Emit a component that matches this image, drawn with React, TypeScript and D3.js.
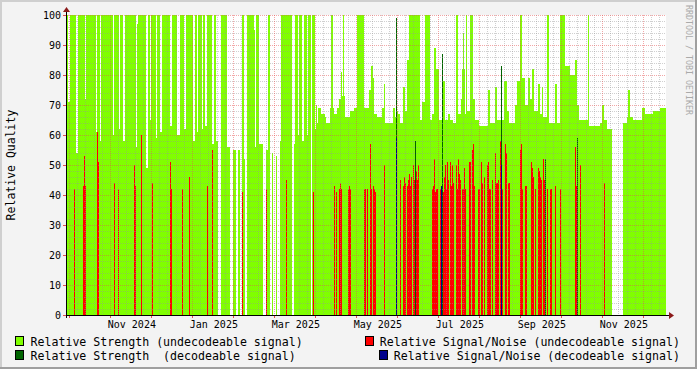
import React from 'react';
import * as d3 from 'd3';

const W = 697;
const H = 369;

// Relative Strength (undecodeable signal): runs [fromStep, toStep, value]
const strengthUndecodeable: [number, number, number][] = [
  [0, 1, 100], [2, 3, 71], [4, 9, 100], [10, 11, 54], [12, 18, 100], [19, 19, 72], [20, 29, 100],
  [30, 30, 61], [31, 33, 100], [34, 34, 58], [35, 46, 100], [47, 47, 60], [48, 52, 100], [53, 53, 62],
  [54, 56, 100], [57, 58, 58], [59, 69, 100], [70, 70, 56], [71, 71, 97], [72, 79, 100], [80, 81, 49],
  [82, 83, 100], [84, 84, 65], [85, 89, 100], [90, 90, 59], [91, 93, 100], [94, 95, 61], [96, 103, 100],
  [104, 105, 63], [106, 110, 100], [111, 113, 60], [114, 117, 100], [118, 119, 62], [120, 126, 100],
  [127, 128, 58], [129, 130, 100], [131, 131, 61], [132, 135, 100], [136, 136, 62], [137, 138, 100],
  [139, 140, 63], [141, 145, 100], [146, 147, 57], [148, 149, 100], [150, 151, 58], [152, 154, 0],
  [155, 160, 100], [161, 163, 56], [164, 166, 0], [167, 169, 55], [170, 171, 0], [172, 173, 55],
  [174, 175, 0], [176, 177, 100], [178, 178, 52], [179, 180, 0], [181, 187, 100], [188, 188, 95],
  [189, 189, 56], [190, 192, 100], [193, 196, 57], [197, 199, 0], [200, 201, 55], [202, 203, 100],
  [204, 205, 0], [206, 206, 54], [207, 209, 0], [210, 210, 53], [211, 213, 0], [214, 214, 58],
  [215, 225, 100], [226, 227, 0], [228, 228, 57], [229, 231, 100], [232, 232, 60], [233, 235, 100],
  [236, 237, 58], [238, 240, 100], [241, 241, 60], [242, 244, 100], [245, 245, 0], [246, 248, 100],
  [249, 249, 62], [250, 250, 70], [251, 251, 64], [252, 254, 69], [255, 258, 67], [259, 259, 66],
  [260, 263, 64], [264, 264, 69], [265, 266, 100], [267, 267, 69], [268, 270, 67], [271, 272, 69],
  [273, 274, 72], [275, 275, 81], [276, 276, 73], [277, 277, 100], [278, 278, 73], [279, 283, 66],
  [284, 287, 68], [288, 290, 69], [291, 297, 100], [298, 302, 69], [303, 304, 75], [305, 306, 83],
  [307, 307, 79], [308, 310, 67], [311, 315, 66], [316, 317, 69], [318, 318, 77], [319, 326, 64],
  [327, 328, 69], [329, 329, 66], [331, 331, 68], [332, 333, 67], [334, 336, 64], [337, 338, 76],
  [339, 340, 68], [341, 342, 85], [343, 353, 100], [354, 355, 65], [356, 358, 71], [359, 363, 100],
  [364, 365, 65], [366, 367, 67], [368, 369, 89], [370, 372, 82], [373, 375, 65], [377, 378, 78],
  [379, 381, 65], [382, 383, 67], [384, 386, 65], [387, 389, 64], [390, 391, 100], [392, 394, 67],
  [395, 395, 72], [396, 396, 82], [397, 397, 94], [398, 398, 82], [399, 399, 67], [400, 400, 100],
  [401, 403, 68], [404, 406, 100], [407, 408, 72], [409, 412, 65], [413, 421, 63], [422, 423, 75],
  [424, 428, 64], [429, 430, 76], [431, 434, 65], [436, 437, 65], [438, 440, 78], [441, 442, 68],
  [443, 448, 64], [449, 450, 70], [451, 453, 78], [454, 455, 100], [456, 458, 79], [459, 461, 70],
  [462, 463, 79], [464, 465, 72], [466, 467, 82], [468, 471, 68], [472, 473, 77], [474, 475, 67],
  [476, 476, 76], [477, 480, 66], [481, 482, 100], [483, 488, 64], [489, 490, 77], [491, 493, 64],
  [494, 498, 100], [499, 503, 83], [504, 508, 80], [509, 510, 85], [511, 512, 70], [513, 521, 65],
  [522, 522, 100], [523, 533, 63], [534, 535, 64], [536, 537, 70], [538, 540, 65], [541, 545, 62],
  [557, 560, 64], [561, 561, 66], [562, 563, 75], [564, 566, 66], [567, 575, 65], [576, 578, 69],
  [579, 586, 67], [587, 593, 68], [594, 599, 69],
];

// Relative Strength (decodeable signal): [step, value]
const strengthDecodeable: [number, number][] = [
  [330, 99], [349, 58], [376, 87], [435, 83], [479, 52], [511, 59],
];

// Relative Signal/Noise (undecodeable signal): [step, value]
const snrUndecodeable: [number, number][] = [
  [8, 42], [17, 43], [18, 53], [19, 43], [31, 61], [32, 51], [48, 44], [52, 42], [68, 50], [69, 43],
  [75, 60], [86, 44], [104, 51], [105, 42], [116, 42], [123, 46], [141, 43], [146, 55], [176, 41],
  [200, 42], [220, 45], [247, 41], [268, 43], [270, 41], [273, 42], [274, 44], [275, 42], [282, 42],
  [283, 43], [284, 42], [298, 42], [299, 42], [301, 42], [304, 57], [305, 42], [307, 43], [308, 42],
  [309, 41], [318, 50], [334, 45], [337, 43], [338, 46], [339, 44], [341, 43], [342, 45], [343, 47],
  [344, 43], [345, 46], [347, 50], [348, 45], [350, 48], [351, 45], [352, 50], [366, 42], [367, 43],
  [368, 52], [369, 41], [370, 42], [371, 42], [374, 42], [377, 41], [378, 46], [379, 50], [380, 42],
  [381, 51], [382, 45], [384, 51], [385, 43], [386, 50], [387, 44], [390, 50], [391, 42], [392, 52],
  [393, 47], [394, 45], [396, 42], [397, 42], [398, 49], [399, 42], [403, 51], [404, 51], [406, 55],
  [407, 57], [408, 43], [412, 42], [413, 42], [415, 51], [416, 44], [418, 46], [421, 50], [422, 51],
  [423, 42], [424, 42], [426, 45], [429, 54], [430, 44], [431, 44], [432, 45], [434, 58], [436, 42],
  [439, 57], [440, 54], [442, 44], [443, 44], [454, 55], [455, 57], [456, 42], [459, 43], [460, 43],
  [465, 51], [466, 49], [467, 46], [469, 42], [472, 49], [473, 48], [474, 46], [475, 45], [477, 52],
  [478, 45], [481, 42], [484, 42], [485, 42], [489, 43], [494, 42], [509, 56], [510, 43], [514, 50],
  [538, 44],
];

// Relative Signal/Noise (decodeable signal): [step, value]
const snrDecodeable: [number, number][] = [[330, 59], [375, 43], [435, 50]];

const yTicks = [0, 10, 20, 30, 40, 50, 60, 70, 80, 90, 100];
const xMajorDates = [
  '2024-10-02', '2024-11-01', '2024-12-01', '2024-12-31', '2025-01-30', '2025-03-01', '2025-03-31',
  '2025-04-30', '2025-05-30', '2025-06-29', '2025-07-29', '2025-08-28', '2025-09-27', '2025-10-27',
  '2025-11-26',
];
const xLabelTexts = ['Nov 2024', 'Jan 2025', 'Mar 2025', 'May 2025', 'Jul 2025', 'Sep 2025', 'Nov 2025'];
const xLabelDates = ['2024-11-17', '2025-01-16', '2025-03-17', '2025-05-16', '2025-07-15', '2025-09-13', '2025-11-12'];

const legendItems = [
  { label: 'Relative Strength (undecodeable signal)', color: '#80ff00' },
  { label: 'Relative Strength  (decodeable signal)', color: '#006400' },
  { label: 'Relative Signal/Noise (undecodeable signal)', color: '#ff0000' },
  { label: 'Relative Signal/Noise (decodeable signal)', color: '#00008b' },
];

const STEPS = 600;
const DAY = 864e5;
const stepDays = 30 / 41;
const origin = Date.UTC(2024, 10, 1) - 44 * stepDays * DAY;
const stepTime = (i: number) => new Date(origin + i * stepDays * DAY);
const parse = (s: string) => new Date(s + 'T00:00:00Z');

const MONO = "'DejaVu Sans Mono', 'Liberation Mono', monospace";

export default function App() {
  const left = 66, right = 666, top = 15, bottom = 315;
  const x = d3.scaleUtc().domain([stepTime(0), stepTime(STEPS)]).range([left, right]);
  const y = d3.scaleLinear().domain([0, 100]).range([bottom, top]);

  const bar = (i: number, v: number, color: string, key: string) => {
    if (!v) return null;
    const x0 = x(stepTime(i));
    const x1 = x(stepTime(i + 1));
    return <rect key={key} x={x0} y={y(v)} width={x1 - x0} height={y(0) - y(v)} fill={color} />;
  };

  const greenBars: React.ReactNode[] = [];
  strengthUndecodeable.forEach(([a, b, v], k) => {
    for (let i = a; i <= b; i++) greenBars.push(bar(i, v, '#80ff00', `g${k}-${i}`));
  });

  const minorDates: Date[] = [];
  xMajorDates.forEach((s) => {
    const d = parse(s);
    for (let k = 1; k < 5; k++) minorDates.push(new Date(+d + k * 6 * DAY));
  });
  const inside = (d: Date) => x(d) > left && x(d) < right;
  const minorY = d3.range(0, 101, 2).filter((v) => v % 10 !== 0);

  return (
    <svg width={W} height={H} style={{ position: 'absolute', left: 0, top: 0 }} shapeRendering="crispEdges">
      <rect x={0} y={0} width={W} height={H} fill="#f3f3f3" />
      <rect x={0} y={0} width={W} height={2} fill="#cfcfcf" />
      <rect x={0} y={0} width={2} height={H} fill="#cfcfcf" />
      <rect x={0} y={H - 2} width={W} height={2} fill="#9f9f9f" />
      <rect x={W - 2} y={0} width={2} height={H} fill="#9f9f9f" />
      <rect x={left} y={top} width={right - left} height={bottom - top} fill="#ffffff" />

      <g>{greenBars}</g>
      <g>{strengthDecodeable.map(([i, v]) => bar(i, v, '#006400', `dg${i}`))}</g>
      <g>{snrUndecodeable.map(([i, v]) => bar(i, v, '#ff0000', `r${i}`))}</g>
      <g>{snrDecodeable.map(([i, v]) => bar(i, v, '#00008b', `b${i}`))}</g>

      {/* grid */}
      <g strokeDasharray="1,1" strokeWidth={1}>
        {minorY.map((v) => (
          <line key={`hy${v}`} x1={left} x2={right} y1={y(v) + 0.5} y2={y(v) + 0.5} stroke="rgba(150,150,150,0.45)" />
        ))}
        {minorDates.filter(inside).map((d, k) => (
          <line key={`vx${k}`} x1={Math.round(x(d)) + 0.5} x2={Math.round(x(d)) + 0.5} y1={top} y2={bottom} stroke="rgba(150,150,150,0.45)" />
        ))}
        {yTicks.filter((v) => v > 0).map((v) => (
          <line key={`My${v}`} x1={left} x2={right} y1={y(v) + 0.5} y2={y(v) + 0.5} stroke="rgba(230,80,80,0.5)" />
        ))}
        {xMajorDates.map(parse).filter(inside).map((d, k) => (
          <line key={`Mx${k}`} x1={Math.round(x(d)) + 0.5} x2={Math.round(x(d)) + 0.5} y1={top} y2={bottom} stroke="rgba(230,80,80,0.5)" />
        ))}
      </g>

      {/* axes */}
      <line x1={left - 3} x2={right + 4} y1={bottom + 0.5} y2={bottom + 0.5} stroke="#000" />
      <line x1={left + 0.5} x2={left + 0.5} y1={bottom + 3} y2={top - 4} stroke="#000" />
      {xMajorDates.map(parse).filter((d) => x(d) >= left).map((d, k) => (
        <line key={`tx${k}`} x1={Math.round(x(d)) + 0.5} x2={Math.round(x(d)) + 0.5} y1={bottom + 1} y2={bottom + 3} stroke="#e05050" />
      ))}
      {yTicks.map((v) => (
        <line key={`ty${v}`} x1={left - 3} x2={left} y1={y(v) + 0.5} y2={y(v) + 0.5} stroke="#e05050" />
      ))}
      <path d={`M${right + 3},${bottom - 3} L${right + 8},${bottom + 0.5} L${right + 3},${bottom + 4} Z`} fill="#8b1a1a" shapeRendering="auto" />
      <path d={`M${left - 3},${top - 3} L${left + 0.5},${top - 8} L${left + 4},${top - 3} Z`} fill="#8b1a1a" shapeRendering="auto" />

      {/* tick labels */}
      <g fontFamily={MONO} fontSize={10} fill="#000">
        {yTicks.map((v) => (
          <text key={`yl${v}`} x={61} y={y(v) + 3.5} textAnchor="end">{v}</text>
        ))}
        {xLabelTexts.map((t, k) => (
          <text key={`xl${k}`} x={x(parse(xLabelDates[k]))} y={328} textAnchor="middle">{t}</text>
        ))}
      </g>

      <text transform={`translate(15,${(top + bottom) / 2}) rotate(-90)`} textAnchor="middle" fontFamily={MONO} fontSize={11.5} fill="#000">
        Relative Quality
      </text>

      <text transform="translate(686,5) rotate(90)" fontFamily={MONO} fontSize={8.3} fill="#aaaaaa">
        RRDTOOL / TOBI OETIKER
      </text>

      {/* legend */}
      <g fontFamily={MONO} fontSize={11.6} fill="#000">
        <rect x={15.5} y={336.5} width={8} height={9} fill={legendItems[0].color} stroke="#000" />
        <text x={30.5} y={345.5} xmlSpace="preserve" style={{ whiteSpace: 'pre' }}>{legendItems[0].label}</text>
        <rect x={15.5} y={350.5} width={8} height={9} fill={legendItems[1].color} stroke="#000" />
        <text x={30.5} y={359.5} xmlSpace="preserve" style={{ whiteSpace: 'pre' }}>{legendItems[1].label}</text>
        <rect x={365.5} y={336.5} width={8} height={9} fill={legendItems[2].color} stroke="#000" />
        <text x={680} y={345.5} textAnchor="end" xmlSpace="preserve" style={{ whiteSpace: 'pre' }}>{legendItems[2].label}</text>
        <rect x={379.5} y={350.5} width={8} height={9} fill={legendItems[3].color} stroke="#000" />
        <text x={680} y={359.5} textAnchor="end" xmlSpace="preserve" style={{ whiteSpace: 'pre' }}>{legendItems[3].label}</text>
      </g>
    </svg>
  );
}
